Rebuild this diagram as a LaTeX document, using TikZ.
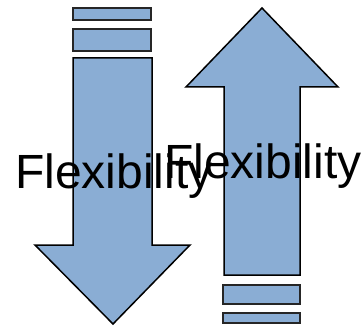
\documentclass[tikz,border=0pt]{standalone}
\usepackage{fontspec}
\setmainfont{Liberation Sans}
\definecolor{arrowblue}{RGB}{138,173,212}
\begin{document}
\begin{tikzpicture}[x=1pt,y=-1pt,
  arrowshape/.style={fill=arrowblue,draw=black,line width=1.5pt,line join=miter},
  barshape/.style={fill=arrowblue,draw=black!85,line width=2.5pt},
  label/.style={inner sep=0pt,anchor=base west,font=\fontsize{48}{50}\selectfont}]
\useasboundingbox (0,0) rectangle (361,326);
% left (down) arrow
\draw[barshape] (73,8) rectangle (151,20);
\draw[barshape] (73,29) rectangle (151,51);
\draw[arrowshape] (73,58) -- (152,58) -- (152,245) -- (190,245) -- (113,324) -- (35,245) -- (73,245) -- cycle;
\node[label] (lefttext) at (15,188) {Flexibility};
% right (up) arrow
\draw[arrowshape] (262,8) -- (338,87) -- (300,87) -- (300,275) -- (224,275) -- (224,87) -- (186,87) -- cycle;
\draw[barshape] (223,285) rectangle (300,304);
\draw[barshape] (223,313) rectangle (300,323);
\node[label] (righttext) at (164,178) {Flexibility};
\end{tikzpicture}
\end{document}
